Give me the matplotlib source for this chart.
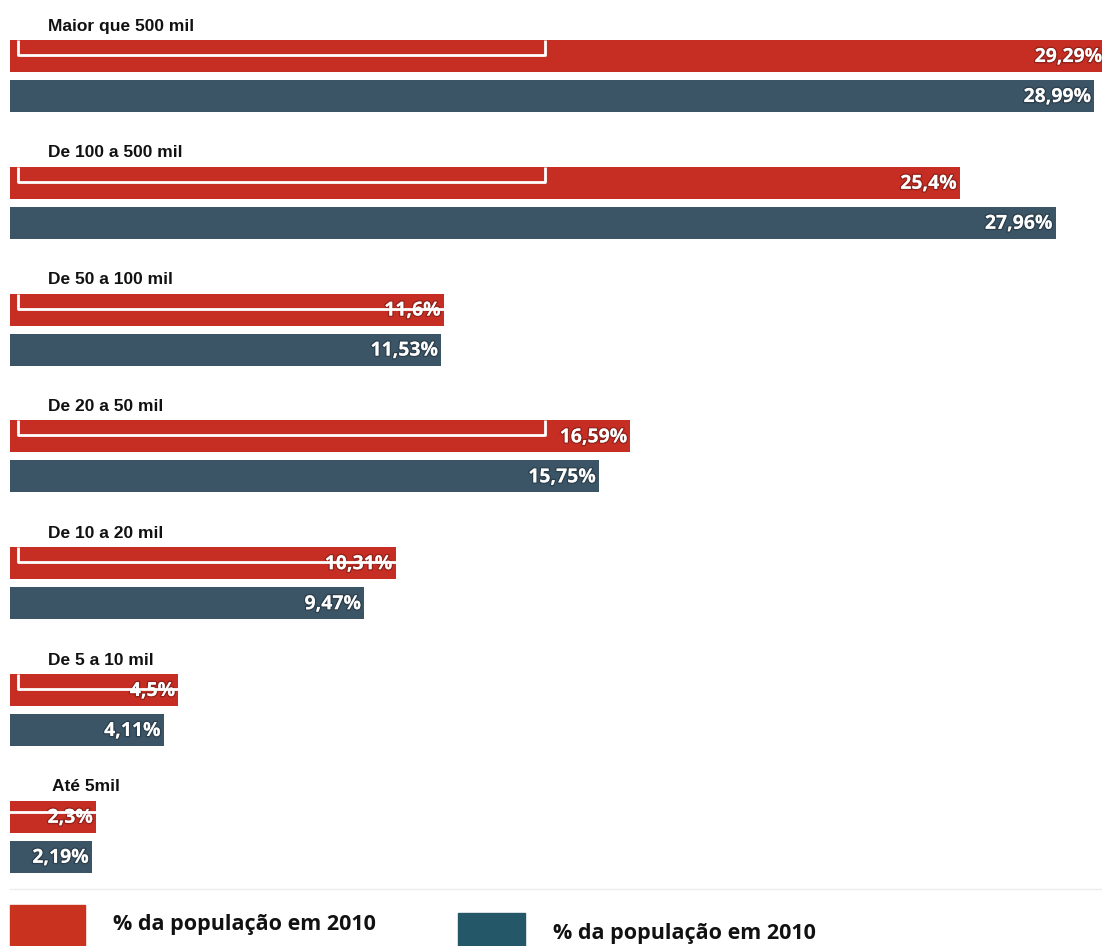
import matplotlib
matplotlib.use("Agg")
import matplotlib.pyplot as plt
import matplotlib.patheffects as pe
from matplotlib.patches import Rectangle

# data
groups = ["Maior que 500 mil", "De 100 a 500 mil", "De 50 a 100 mil", "De 20 a 50 mil",
          "De 10 a 20 mil", "De 5 a 10 mil", "Até 5mil"]
red_vals = [29.29, 25.4, 11.6, 16.59, 10.31, 4.5, 2.3]
blue_vals = [28.99, 27.96, 11.53, 15.75, 9.47, 4.11, 2.19]
red_labels = ["29,29%", "25,4%", "11,6%", "16,59%", "10,31%", "4,5%", "2,3%"]
blue_labels = ["28,99%", "27,96%", "11,53%", "15,75%", "9,47%", "4,11%", "2,19%"]
legend_texts = ["% da população em 2010", "% da população em 2010"]

RED = "#c62d23"
BLUE = "#3b5567"

W, H = 1102, 946
fig = plt.figure(figsize=(W / 100, H / 100), dpi=100)

# bar axes: x in percent, y in pixels from the top
ax = fig.add_axes([10 / W, 0, (W - 10) / W, 1])
ax.set_xlim(0, 29.2)
ax.set_ylim(H, 0)
ax.axis("off")

step = 126.8
top0 = 40
bh = 32
shadow = [pe.withStroke(linewidth=2, foreground=(0, 0, 0, 0.25))]
for i, g in enumerate(groups):
    rtop = top0 + i * step
    btop = rtop + 40
    ax.barh(rtop + bh / 2, red_vals[i], height=bh, color=RED, left=0)
    ax.barh(btop + bh / 2, blue_vals[i], height=bh, color=BLUE, left=0)
    ax.text(red_vals[i] - 0.08, rtop + bh / 2 + 1, red_labels[i], color="white",
            ha="right", va="center", fontsize=14, fontweight="bold",
            family="Open Sans", path_effects=shadow)
    ax.text(blue_vals[i] - 0.08, btop + bh / 2 + 1, blue_labels[i], color="white",
            ha="right", va="center", fontsize=14, fontweight="bold",
            family="Open Sans", path_effects=shadow)

# overlay in pixel coordinates for labels, legend and decorations
ov = fig.add_axes([0, 0, 1, 1])
ov.set_xlim(0, W)
ov.set_ylim(H, 0)
ov.axis("off")
ov.patch.set_alpha(0)

for i, g in enumerate(groups):
    rtop = top0 + i * step
    ov.text(48 if i < 6 else 52, rtop - 14, g, ha="left", va="center",
            fontsize=12.5, fontweight="bold", family="Liberation Sans", color="#111111")
    # white bracket lines drawn over the red bars
    if i < 6:
        ov.plot([18, 18, 545, 545], [rtop, rtop + 15, rtop + 15, rtop],
                color="white", lw=2, solid_capstyle="butt")
    else:
        ov.plot([10, 100], [rtop + 11, rtop + 11], color="white", lw=2)

# separator line and legend
ov.plot([10, W], [889, 889], color="#ececec", lw=1)
ov.add_patch(Rectangle((10, 905), 75, 50, color="#c9321f"))
ov.text(113, 924, legend_texts[0], ha="left", va="center", fontsize=15.5,
        fontweight="bold", family="Open Sans", color="#111111")
ov.add_patch(Rectangle((458, 913), 67, 40, color="#245868"))
ov.text(553, 933, legend_texts[1], ha="left", va="center", fontsize=15.5,
        fontweight="bold", family="Open Sans", color="#111111")

fig.savefig("out.png", dpi=100)
